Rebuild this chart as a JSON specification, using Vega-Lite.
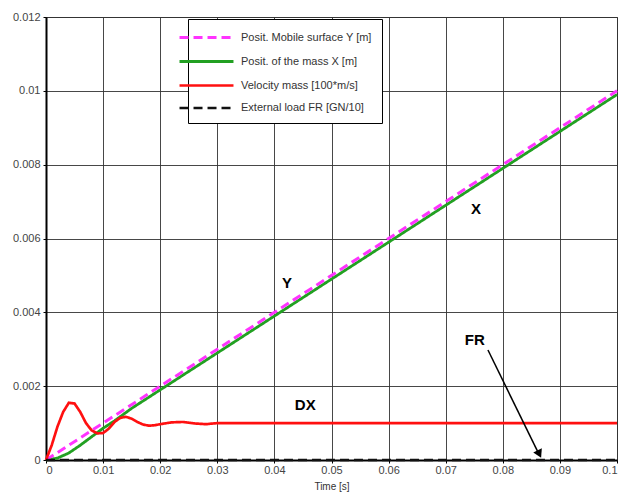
{
  "$schema": "https://vega.github.io/schema/vega-lite/v6.json",
  "width": 571,
  "height": 443,
  "autosize": {"type": "none"},
  "padding": {"left": 46, "top": 17, "right": 9, "bottom": 39},
  "background": "white",
  "config": {
    "font": "Liberation Sans",
    "view": {"stroke": "#444", "strokeWidth": 1},
    "axis": {
      "gridColor": "#333", "gridOpacity": 0.9, "gridWidth": 1,
      "domainColor": "black", "domainWidth": 2,
      "tickColor": "black", "tickSize": 3,
      "labelFont": "Liberation Sans", "labelFontSize": 11, "labelColor": "#444",
      "titleFont": "Liberation Sans", "titleFontSize": 10, "titleFontWeight": "normal", "titleColor": "#333"
    }
  },
  "datasets": {
    "series": [
      {"t": 0, "v": 0, "s": "Posit. Mobile surface Y [m]"},
      {"t": 0.1, "v": 0.01, "s": "Posit. Mobile surface Y [m]"},
      {"t": 0, "v": 0, "s": "Posit. of the mass X [m]"},
      {"t": 0.002, "v": 0.00005, "s": "Posit. of the mass X [m]"},
      {"t": 0.004, "v": 0.00019, "s": "Posit. of the mass X [m]"},
      {"t": 0.006, "v": 0.0004, "s": "Posit. of the mass X [m]"},
      {"t": 0.008, "v": 0.00063, "s": "Posit. of the mass X [m]"},
      {"t": 0.010, "v": 0.00086, "s": "Posit. of the mass X [m]"},
      {"t": 0.012, "v": 0.00106, "s": "Posit. of the mass X [m]"},
      {"t": 0.015, "v": 0.0014, "s": "Posit. of the mass X [m]"},
      {"t": 0.02, "v": 0.0019, "s": "Posit. of the mass X [m]"},
      {"t": 0.1, "v": 0.0099, "s": "Posit. of the mass X [m]"},
      {"t": 0, "v": 0, "s": "Velocity mass [100*m/s]"},
      {"t": 0.001, "v": 0.0004, "s": "Velocity mass [100*m/s]"},
      {"t": 0.002, "v": 0.0009, "s": "Velocity mass [100*m/s]"},
      {"t": 0.003, "v": 0.0013, "s": "Velocity mass [100*m/s]"},
      {"t": 0.004, "v": 0.00155, "s": "Velocity mass [100*m/s]"},
      {"t": 0.005, "v": 0.00153, "s": "Velocity mass [100*m/s]"},
      {"t": 0.006, "v": 0.0013, "s": "Velocity mass [100*m/s]"},
      {"t": 0.007, "v": 0.001, "s": "Velocity mass [100*m/s]"},
      {"t": 0.008, "v": 0.0008, "s": "Velocity mass [100*m/s]"},
      {"t": 0.009, "v": 0.00072, "s": "Velocity mass [100*m/s]"},
      {"t": 0.010, "v": 0.00073, "s": "Velocity mass [100*m/s]"},
      {"t": 0.011, "v": 0.00085, "s": "Velocity mass [100*m/s]"},
      {"t": 0.012, "v": 0.00103, "s": "Velocity mass [100*m/s]"},
      {"t": 0.013, "v": 0.00114, "s": "Velocity mass [100*m/s]"},
      {"t": 0.014, "v": 0.00117, "s": "Velocity mass [100*m/s]"},
      {"t": 0.015, "v": 0.00112, "s": "Velocity mass [100*m/s]"},
      {"t": 0.016, "v": 0.00103, "s": "Velocity mass [100*m/s]"},
      {"t": 0.017, "v": 0.00096, "s": "Velocity mass [100*m/s]"},
      {"t": 0.018, "v": 0.00093, "s": "Velocity mass [100*m/s]"},
      {"t": 0.019, "v": 0.00094, "s": "Velocity mass [100*m/s]"},
      {"t": 0.020, "v": 0.00097, "s": "Velocity mass [100*m/s]"},
      {"t": 0.022, "v": 0.00102, "s": "Velocity mass [100*m/s]"},
      {"t": 0.024, "v": 0.00103, "s": "Velocity mass [100*m/s]"},
      {"t": 0.026, "v": 0.00099, "s": "Velocity mass [100*m/s]"},
      {"t": 0.028, "v": 0.00097, "s": "Velocity mass [100*m/s]"},
      {"t": 0.030, "v": 0.001, "s": "Velocity mass [100*m/s]"},
      {"t": 0.1, "v": 0.001, "s": "Velocity mass [100*m/s]"},
      {"t": 0, "v": 0, "s": "External load FR [GN/10]"},
      {"t": 0.1, "v": 0, "s": "External load FR [GN/10]"}
    ],
    "labels": [
      {"t": 0.0753, "v": 0.0068, "label": "X"},
      {"t": 0.0422, "v": 0.0048, "label": "Y"},
      {"t": 0.0454, "v": 0.0015, "label": "DX"},
      {"t": 0.0751, "v": 0.00325, "label": "FR"}
    ],
    "arrow": [
      {"t": 0.0774, "v": 0.00298, "t2": 0.0862, "v2": 0.0002}
    ],
    "head": [
      {"t": 0.0864, "v": 0.00016}
    ]
  },
  "encoding": {
    "x": {"field": "t", "type": "quantitative",
      "scale": {"domain": [0, 0.1], "nice": false, "zero": false},
      "axis": {"title": "Time [s]", "values": [0,0.01,0.02,0.03,0.04,0.05,0.06,0.07,0.08,0.09,0.1], "format": "~g", "titlePadding": 6, "labelPadding": 1}},
    "y": {"field": "v", "type": "quantitative",
      "scale": {"domain": [0, 0.012], "nice": false, "zero": false},
      "axis": {"title": null, "values": [0,0.002,0.004,0.006,0.008,0.01,0.012], "format": "~g", "labelPadding": 3}}
  },
  "layer": [
    {
      "data": {"name": "series"},
      "transform": [{"filter": "datum.s === 'Posit. of the mass X [m]'"}],
      "mark": {"type": "line", "strokeCap": "butt"},
      "encoding": {
        "color": {"field": "s", "type": "nominal",
          "scale": {"domain": ["Posit. Mobile surface Y [m]", "Posit. of the mass X [m]", "Velocity mass [100*m/s]", "External load FR [GN/10]"],
                    "range": ["#ff33ff", "#22a022", "#ff1010", "#111111"]},
          "legend": {"title": null, "orient": "none", "legendX": 142, "legendY": 2,
            "strokeColor": "black", "fillColor": "white", "padding": 10,
            "symbolType": "M-4,0L4,0", "symbolSize": 182, "symbolStrokeWidth": 3,
            "rowPadding": 9, "labelFontSize": 11, "labelColor": "#333", "labelFont": "Liberation Sans",
            "labelOffset": 26, "labelLimit": 300}},
        "strokeDash": {"field": "s", "type": "nominal",
          "scale": {"domain": ["Posit. Mobile surface Y [m]", "Posit. of the mass X [m]", "Velocity mass [100*m/s]", "External load FR [GN/10]"],
                    "range": [[9, 5], [1, 0], [1, 0], [9, 5]]},
          "legend": null},
        "strokeWidth": {"field": "s", "type": "nominal",
          "scale": {"domain": ["Posit. Mobile surface Y [m]", "Posit. of the mass X [m]", "Velocity mass [100*m/s]", "External load FR [GN/10]"],
                    "range": [3, 2.5, 2, 2.5]},
          "legend": null}
      }
    },
    {
      "data": {"name": "series"},
      "transform": [{"filter": "datum.s !== 'Posit. of the mass X [m]'"}],
      "mark": {"type": "line", "strokeCap": "butt"},
      "encoding": {
        "color": {"field": "s", "type": "nominal"},
        "strokeDash": {"field": "s", "type": "nominal"},
        "strokeWidth": {"field": "s", "type": "nominal"}
      }
    },
    {
      "data": {"name": "labels"},
      "mark": {"type": "text", "fontSize": 15, "fontWeight": "bold", "color": "black", "font": "Liberation Sans"},
      "encoding": {"text": {"field": "label"}}
    },
    {
      "data": {"name": "arrow"},
      "mark": {"type": "rule", "color": "black", "strokeWidth": 1.5},
      "encoding": {
        "x2": {"field": "t2"},
        "y2": {"field": "v2"}
      }
    },
    {
      "data": {"name": "head"},
      "mark": {"type": "point", "shape": "triangle-up", "filled": true, "color": "black", "size": 90, "angle": 154, "opacity": 1},
      "encoding": {}
    }
  ]
}
